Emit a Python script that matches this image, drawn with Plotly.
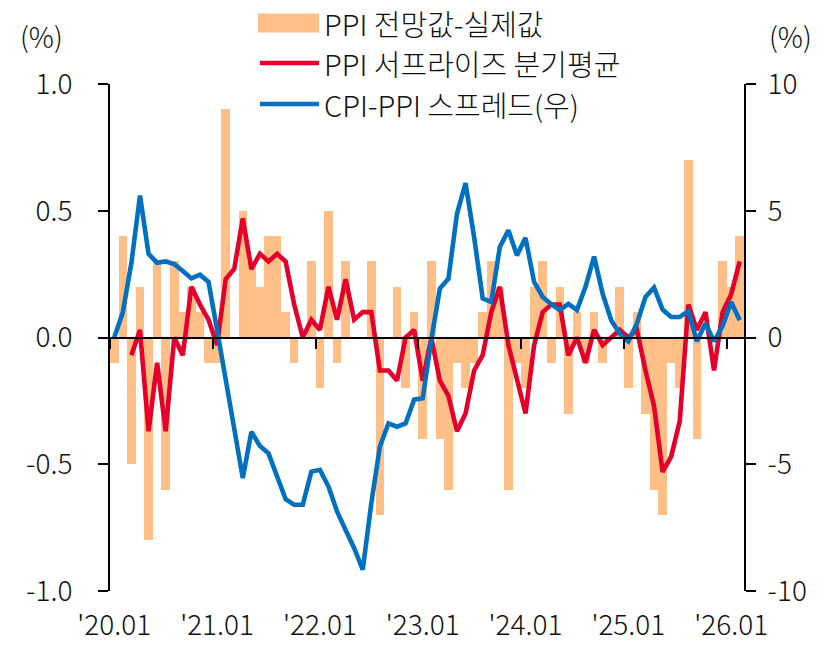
import plotly.graph_objects as go

FONT = "Noto Sans CJK KR"

# ---- data (monthly, 2020.01 - 2026.02) ----
months = [f"{y}.{m:02d}" for y in range(2020, 2027) for m in range(1, 13)][:74]

# PPI forecast - actual (%p)
ppi_surprise = [
    -0.1, 0.4, -0.5, 0.2, -0.8, 0.3, -0.6, 0.3, 0.1, 0.2, 0.1, -0.1,   # 2020
    -0.1, 0.9, 0.0, 0.5, 0.3, 0.2, 0.4, 0.4, 0.1, -0.1, 0.0, 0.3,      # 2021
    -0.2, 0.5, -0.1, 0.3, 0.0, 0.0, 0.3, -0.7, 0.0, 0.2, -0.2, 0.1,    # 2022
    -0.4, 0.3, -0.4, -0.6, -0.1, -0.2, -0.1, 0.1, 0.3, 0.2, -0.6, -0.1,  # 2023
    -0.2, 0.2, 0.3, -0.1, 0.2, -0.3, 0.1, -0.1, 0.1, -0.1, 0.0, 0.2,   # 2024
    -0.2, 0.1, -0.3, -0.6, -0.7, -0.1, -0.2, 0.7, -0.4, 0.0, 0.0, 0.3,  # 2025
    0.2, 0.4,                                                          # 2026
]

# PPI surprise, quarterly average (%p)
ppi_surprise_qavg = [
    None, None, -0.07, 0.03, -0.37, -0.10, -0.37, 0.00, -0.07, 0.20, 0.13, 0.07,
    -0.03, 0.23, 0.27, 0.47, 0.27, 0.33, 0.30, 0.33, 0.30, 0.13, 0.00, 0.07,
    0.03, 0.20, 0.07, 0.23, 0.07, 0.10, 0.10, -0.13, -0.13, -0.17, 0.00, 0.03,
    -0.17, 0.00, -0.17, -0.23, -0.37, -0.30, -0.13, -0.07, 0.10, 0.20, -0.03, -0.17,
    -0.30, -0.03, 0.10, 0.13, 0.13, -0.07, 0.00, -0.10, 0.03, -0.03, 0.00, 0.03,
    0.00, 0.03, -0.13, -0.27, -0.53, -0.47, -0.33, 0.13, 0.03, 0.10, -0.13, 0.10,
    0.17, 0.30,
]

# CPI - PPI spread (%p, right axis)
cpi_ppi_spread = [
    0.0, 1.0, 2.95, 5.6, 3.3, 2.95, 3.0, 2.9, 2.62, 2.33, 2.48, 2.19,
    0.3, -1.65, -3.6, -5.55, -3.72, -4.28, -4.57, -5.45, -6.38, -6.6, -6.6, -5.29,
    -5.22, -5.88, -6.86, -7.59, -8.31, -9.16, -6.54, -4.3, -3.39, -3.52, -3.39, -2.45,
    -2.4, -0.1, 1.93, 2.32, 4.88, 6.09, 3.96, 1.54, 1.4, 3.57, 4.23, 3.24,
    3.93, 2.19, 1.6, 1.31, 1.08, 1.33, 1.08, 2.0, 3.19, 1.73, 0.68, 0.15,
    -0.15, 0.55, 1.6, 1.97, 1.1, 0.81, 0.81, 1.04, -0.15, 0.55, -0.15, 0.45,
    1.4, 0.68,
]

x_tick_pos = [0, 12, 24, 36, 48, 60, 72]
x_tick_labels = ["'20.01", "'21.01", "'22.01", "'23.01", "'24.01", "'25.01", "'26.01"]
x_boundary_ticks = [-0.5, 11.5, 23.5, 35.5, 47.5, 59.5, 71.5]
left_ticks = [1.0, 0.5, 0.0, -0.5, -1.0]
left_tick_text = ["1.0", "0.5", "0.0", "-0.5", "-1.0"]
right_ticks = [10, 5, 0, -5, -10]
right_tick_text = ["10", "5", "0", "-5", "-10"]

names = ["PPI 전망값-실제값", "PPI 서프라이즈 분기평균", "CPI-PPI 스프레드(우)"]
colors = ["#FFBF86", "#E4002B", "#0070C0"]

idx = list(range(len(months)))
xr = [-0.5, len(months) - 0.5]

fig = go.Figure()
fig.add_trace(go.Bar(x=idx, y=ppi_surprise, name=names[0], marker=dict(color=colors[0], line=dict(width=0)),
                     xaxis="x", yaxis="y", customdata=months))
fig.add_trace(go.Scatter(x=idx, y=ppi_surprise_qavg, name=names[1], mode="lines",
                         line=dict(color=colors[1], width=4.6), xaxis="x", yaxis="y"))
fig.add_trace(go.Scatter(x=idx, y=cpi_ppi_spread, name=names[2], mode="lines",
                         line=dict(color=colors[2], width=4.6), xaxis="x", yaxis="y2"))
# helper (empty) trace so the label axis is created
fig.add_trace(go.Scatter(x=[None], y=[None], xaxis="x2", yaxis="y", showlegend=False, hoverinfo="skip"))

W, H = 825, 646
L, R, T, B = 110, 81, 84, 55
TXT = "#111111"
FS = 28
TF = dict(size=FS, color=TXT, family=FONT, weight=300)
LF = dict(size=29, color=TXT, family=FONT, weight=300)

fig.update_layout(
    width=W, height=H,
    margin=dict(l=L, r=R, t=T, b=B, pad=0, autoexpand=False),
    plot_bgcolor="white", paper_bgcolor="white",
    bargap=0, showlegend=False,
    font=TF,
    xaxis=dict(range=xr, anchor="free", position=0.5, showline=True, linecolor="black", linewidth=2,
               ticks="outside", ticklen=10, tickwidth=2, tickcolor="black", automargin=False,
               tickvals=x_boundary_ticks, showticklabels=False, showgrid=False, zeroline=False),
    xaxis2=dict(range=xr, overlaying="x", anchor="y", side="bottom", showline=False, ticks="",
                tickvals=x_tick_pos, ticktext=x_tick_labels, ticklabelstandoff=15, automargin=False,
                showgrid=False, zeroline=False, tickfont=TF),
    yaxis=dict(range=[-1, 1], side="left", tickvals=left_ticks, ticktext=left_tick_text,
               showline=True, linecolor="black", linewidth=2, ticks="outside", ticklen=10, tickwidth=2,
               tickcolor="black", showgrid=False, zeroline=False, ticklabelstandoff=20, automargin=False,
               tickfont=TF),
    yaxis2=dict(range=[-10, 10], side="right", overlaying="y", tickvals=right_ticks, ticktext=right_tick_text,
                showline=True, linecolor="black", linewidth=2, ticks="outside", ticklen=10, tickwidth=2,
                tickcolor="black", showgrid=False, zeroline=False, ticklabelstandoff=6, automargin=False,
                tickfont=TF),
)

# axis unit labels
pw, ph = W - L - R, H - T - B
def px_x(p):
    return (p - L) / pw
def px_y(p):
    return (H - B - p) / ph

fig.add_annotation(x=px_x(41), y=px_y(36), xref="paper", yref="paper", text="(%)", showarrow=False,
                   font=TF, xanchor="center", yanchor="middle")
fig.add_annotation(x=px_x(790), y=px_y(36), xref="paper", yref="paper", text="(%)", showarrow=False,
                   font=TF, xanchor="center", yanchor="middle")

# legend (drawn manually to match symbol sizes)
leg_y = [23, 63, 104]
sx0, sx1, tx = 258, 319, 322
fig.add_shape(type="rect", xref="paper", yref="paper", x0=px_x(sx0), x1=px_x(sx1),
              y0=px_y(leg_y[0] + 9.5), y1=px_y(leg_y[0] - 9.5), fillcolor=colors[0], line=dict(width=0))
for i in (1, 2):
    fig.add_shape(type="line", xref="paper", yref="paper", x0=px_x(sx0 + 2), x1=px_x(sx1),
                  y0=px_y(leg_y[i]), y1=px_y(leg_y[i]), line=dict(color=colors[i], width=4.6))
for i in range(3):
    fig.add_annotation(x=px_x(tx), y=px_y(leg_y[i]), xref="paper", yref="paper", text=names[i],
                       showarrow=False, xanchor="left", yanchor="middle", font=LF)

fig.write_html("out.html", config={"displayModeBar": False},
               post_script="document.body.style.margin='0';")
